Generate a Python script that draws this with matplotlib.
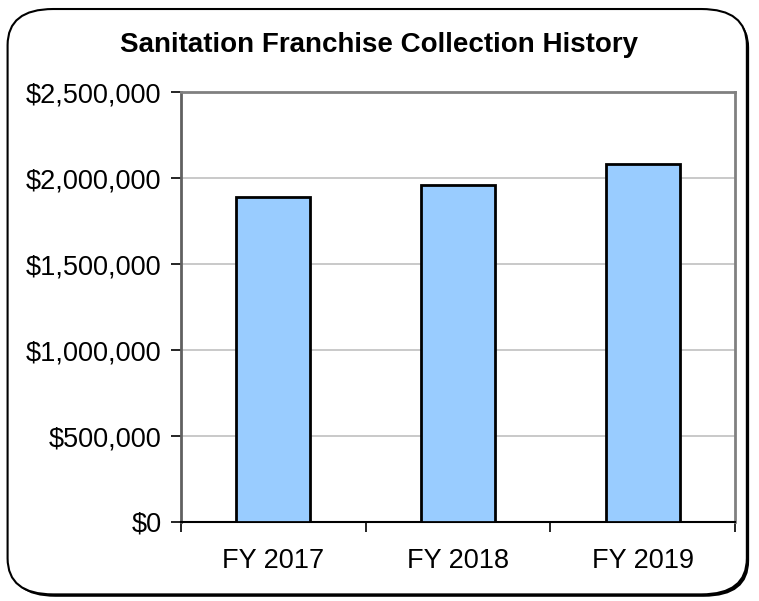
import matplotlib.pyplot as plt
from matplotlib.patches import FancyBboxPatch
from matplotlib.ticker import FuncFormatter

plt.rcParams['font.family'] = ['Liberation Sans', 'DejaVu Sans']

years = ['FY 2017', 'FY 2018', 'FY 2019']
collections = [1889000, 1957000, 2082000]
yticks = [0, 500000, 1000000, 1500000, 2000000, 2500000]

fig = plt.figure(figsize=(7.59, 6.01), dpi=100)

# rounded outer frame with a small shadow
shadow = FancyBboxPatch((0.013, 0.007), 0.974, 0.974, boxstyle='round,pad=0,rounding_size=0.06',
                        transform=fig.transFigure, facecolor='black', edgecolor='none', zorder=-2)
frame = FancyBboxPatch((0.010, 0.011), 0.974, 0.974, boxstyle='round,pad=0,rounding_size=0.06',
                       transform=fig.transFigure, facecolor='white', edgecolor='black',
                       linewidth=1.5, zorder=-1)
fig.patches.extend([shadow, frame])

ax = fig.add_axes([181 / 759, 1 - 522 / 601, (735 - 181) / 759, (522 - 92) / 601])
ax.set_facecolor('white')

x = range(len(years))
ax.bar(x, collections, width=0.4, color='#99ccff', edgecolor='black', linewidth=2, zorder=3)

ax.set_xlim(-0.5, 2.5)
ax.set_ylim(0, 2500000)
ax.set_yticks(yticks)
ax.yaxis.set_major_formatter(FuncFormatter(lambda v, p: '${:,.0f}'.format(v)))
ax.yaxis.grid(True, color='#c0c0c0', linewidth=1.2, zorder=0)

# categories centred, tick marks at the boundaries
ax.set_xticks([-0.5, 0.5, 1.5, 2.5])
ax.set_xticklabels([])
ax.set_xticks(list(x), minor=True)
ax.set_xticklabels(years, minor=True)
ax.tick_params(axis='x', which='minor', length=0, pad=19, labelsize=19.5)
ax.tick_params(axis='x', which='major', length=7, width=1.2, direction='out')
ax.tick_params(axis='y', length=7, width=1.2, direction='out', labelsize=19.5, pad=7)

for side in ['top', 'right']:
    ax.spines[side].set_color('#808080')
    ax.spines[side].set_linewidth(2)
ax.spines['left'].set_color('#606060')
ax.spines['left'].set_linewidth(2)
ax.spines['bottom'].set_color('black')
ax.spines['bottom'].set_linewidth(1.5)

fig.text(0.5, 1 - 45 / 601, 'Sanitation Franchise Collection History', ha='center', va='center',
         fontsize=20, fontweight='bold')

fig.savefig('out.png', dpi=100)
